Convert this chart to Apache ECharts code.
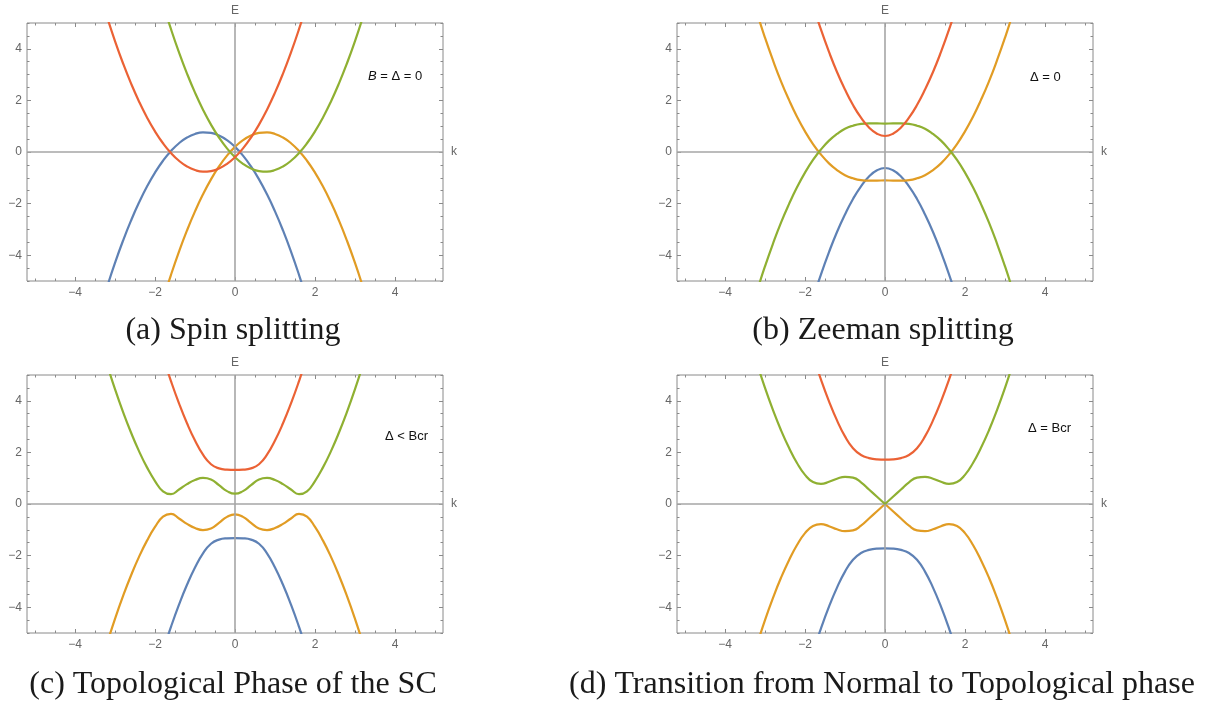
<!DOCTYPE html>
<html>
<head>
<meta charset="utf-8">
<script src="https://cdn.jsdelivr.net/npm/echarts@6/dist/echarts.min.js"></script>
<style>
  html, body { margin: 0; padding: 0; background: #fff; }
  #chart { width: 1212px; height: 704px; }
</style>
</head>
<body>
<div id="chart"></div>
<script>
// Momentum grid shared by every band
const kValues = [-3.4, -3.2, -3.0, -2.8, -2.6, -2.4, -2.2, -2.0, -1.8, -1.6, -1.4, -1.2, -1.0, -0.8, -0.6, -0.4, -0.2, 0,
                 0.2, 0.4, 0.6, 0.8, 1.0, 1.2, 1.4, 1.6, 1.8, 2.0, 2.2, 2.4, 2.6, 2.8, 3.0, 3.2, 3.4];

// (a) spin splitting, B = Δ = 0
const spinBlue   = [-6.26, -5.24, -4.30, -3.44, -2.66, -1.96, -1.34, -0.80, -0.34, 0.04, 0.34, 0.56, 0.70, 0.76, 0.74, 0.64, 0.46, 0.20,
                    -0.14, -0.56, -1.06, -1.64, -2.30, -3.04, -3.86, -4.76, -5.74, -6.80, null, null, null, null, null, null, null];
const spinOrange = [null, null, null, null, null, null, null, -6.80, -5.74, -4.76, -3.86, -3.04, -2.30, -1.64, -1.06, -0.56, -0.14, 0.20,
                    0.46, 0.64, 0.74, 0.76, 0.70, 0.56, 0.34, 0.04, -0.34, -0.80, -1.34, -1.96, -2.66, -3.44, -4.30, -5.24, -6.26];
const spinGreen  = [null, null, null, null, null, null, null, 6.80, 5.74, 4.76, 3.86, 3.04, 2.30, 1.64, 1.06, 0.56, 0.14, -0.20,
                    -0.46, -0.64, -0.74, -0.76, -0.70, -0.56, -0.34, -0.04, 0.34, 0.80, 1.34, 1.96, 2.66, 3.44, 4.30, 5.24, 6.26];
const spinRed    = [6.26, 5.24, 4.30, 3.44, 2.66, 1.96, 1.34, 0.80, 0.34, -0.04, -0.34, -0.56, -0.70, -0.76, -0.74, -0.64, -0.46, -0.20,
                    0.14, 0.56, 1.06, 1.64, 2.30, 3.04, 3.86, 4.76, 5.74, 6.80, null, null, null, null, null, null, null];

// (b) Zeeman splitting, Δ = 0
const zeemanBlue   = [null, null, null, null, null, null, null, -6.72, -5.69, -4.74, -3.88, -3.10, -2.42, -1.82, -1.33, -0.95, -0.71, -0.62,
                      -0.71, -0.95, -1.33, -1.82, -2.42, -3.10, -3.88, -4.74, -5.69, -6.72, null, null, null, null, null, null, null];
const zeemanOrange = [6.44, 5.39, 4.43, 3.55, 2.74, 2.02, 1.37, 0.80, 0.31, -0.10, -0.44, -0.70, -0.90, -1.02, -1.09, -1.11, -1.11, -1.10,
                      -1.11, -1.11, -1.09, -1.02, -0.90, -0.70, -0.44, -0.10, 0.31, 0.80, 1.37, 2.02, 2.74, 3.55, 4.43, 5.39, 6.44];
const zeemanGreen  = [-6.44, -5.39, -4.43, -3.55, -2.74, -2.02, -1.37, -0.80, -0.31, 0.10, 0.44, 0.70, 0.90, 1.02, 1.09, 1.11, 1.11, 1.10,
                      1.11, 1.11, 1.09, 1.02, 0.90, 0.70, 0.44, 0.10, -0.31, -0.80, -1.37, -2.02, -2.74, -3.55, -4.43, -5.39, -6.44];
const zeemanRed    = [null, null, null, null, null, null, null, 6.72, 5.69, 4.74, 3.88, 3.10, 2.42, 1.82, 1.33, 0.95, 0.71, 0.62,
                      0.71, 0.95, 1.33, 1.82, 2.42, 3.10, 3.88, 4.74, 5.69, 6.72, null, null, null, null, null, null, null];

// (c) topological superconducting phase, Δ < Bcr
const topoBlue   = [null, null, null, null, null, null, null, -6.73, -5.70, -4.76, -3.90, -3.13, -2.46, -1.91, -1.54, -1.38, -1.33, -1.32,
                    -1.33, -1.38, -1.54, -1.91, -2.46, -3.13, -3.90, -4.76, -5.70, -6.73, null, null, null, null, null, null, null];
const topoOrange = [-6.45, -5.41, -4.45, -3.57, -2.77, -2.05, -1.42, -0.89, -0.49, -0.38, -0.56, -0.77, -0.93, -1.01, -0.95, -0.73, -0.50, -0.40,
                    -0.50, -0.73, -0.95, -1.01, -0.93, -0.77, -0.56, -0.38, -0.49, -0.89, -1.42, -2.05, -2.77, -3.57, -4.45, -5.41, -6.45];
const topoGreen  = [6.45, 5.41, 4.45, 3.57, 2.77, 2.05, 1.42, 0.89, 0.49, 0.38, 0.56, 0.77, 0.93, 1.01, 0.95, 0.73, 0.50, 0.40,
                    0.50, 0.73, 0.95, 1.01, 0.93, 0.77, 0.56, 0.38, 0.49, 0.89, 1.42, 2.05, 2.77, 3.57, 4.45, 5.41, 6.45];
const topoRed    = [null, null, null, null, null, null, null, 6.73, 5.70, 4.76, 3.90, 3.13, 2.46, 1.91, 1.54, 1.38, 1.33, 1.32,
                    1.33, 1.38, 1.54, 1.91, 2.46, 3.13, 3.90, 4.76, 5.70, 6.73, null, null, null, null, null, null, null];

// (d) gap closing at the transition, Δ = Bcr
const critBlue   = [null, null, null, null, null, null, null, -6.77, -5.75, -4.82, -3.98, -3.24, -2.62, -2.16, -1.90, -1.78, -1.73, -1.72,
                    -1.73, -1.78, -1.90, -2.16, -2.62, -3.24, -3.98, -4.82, -5.75, -6.77, null, null, null, null, null, null, null];
const critOrange = [-6.49, -5.45, -4.50, -3.64, -2.86, -2.18, -1.59, -1.13, -0.85, -0.78, -0.86, -0.98, -1.05, -1.02, -0.84, -0.56, -0.28, 0.00,
                    -0.28, -0.56, -0.84, -1.02, -1.05, -0.98, -0.86, -0.78, -0.85, -1.13, -1.59, -2.18, -2.86, -3.64, -4.50, -5.45, -6.49];
const critGreen  = [6.49, 5.45, 4.50, 3.64, 2.86, 2.18, 1.59, 1.13, 0.85, 0.78, 0.86, 0.98, 1.05, 1.02, 0.84, 0.56, 0.28, 0.00,
                    0.28, 0.56, 0.84, 1.02, 1.05, 0.98, 0.86, 0.78, 0.85, 1.13, 1.59, 2.18, 2.86, 3.64, 4.50, 5.45, 6.49];
const critRed    = [null, null, null, null, null, null, null, 6.77, 5.75, 4.82, 3.98, 3.24, 2.62, 2.16, 1.90, 1.78, 1.73, 1.72,
                    1.73, 1.78, 1.90, 2.16, 2.62, 3.24, 3.98, 4.82, 5.75, 6.77, null, null, null, null, null, null, null];

// Tick positions and labels
const kMajorTicks = [-4, -2, 0, 2, 4];
const kMinorTicks = [-5, -4.5, -4, -3.5, -3, -2.5, -2, -1.5, -1, -0.5, 0, 0.5, 1, 1.5, 2, 2.5, 3, 3.5, 4, 4.5, 5];
const eMajorTicks = [-4, -2, 0, 2, 4];
const eMinorTicks = [-5, -4.5, -4, -3.5, -3, -2.5, -2, -1.5, -1, -0.5, 0, 0.5, 1, 1.5, 2, 2.5, 3, 3.5, 4, 4.5, 5];

const captions = ['(a) Spin splitting', '(b) Zeeman splitting', '(c) Topological Phase of the SC', '(d) Transition from Normal to Topological phase'];
const notes = ['{it|B} = Δ = 0', 'Δ = 0', 'Δ < Bcr', 'Δ = Bcr'];

const bandColors = ['#5E81B5', '#E19C24', '#8FB032', '#EB6235'];

const panels = [
  { rect: { left: 27, top: 23, width: 416, height: 258 }, bands: [spinBlue, spinOrange, spinGreen, spinRed], cusp: [],
    captionPos: [233, 314], notePos: [368, 69] },
  { rect: { left: 677, top: 23, width: 416, height: 258 }, bands: [zeemanBlue, zeemanOrange, zeemanGreen, zeemanRed], cusp: [],
    captionPos: [883, 314], notePos: [1030, 70] },
  { rect: { left: 27, top: 375, width: 416, height: 258 }, bands: [topoBlue, topoOrange, topoGreen, topoRed], cusp: [],
    captionPos: [233, 668], notePos: [385, 429] },
  { rect: { left: 677, top: 375, width: 416, height: 258 }, bands: [critBlue, critOrange, critGreen, critRed], cusp: [1, 2],
    captionPos: [882, 668], notePos: [1028, 421] }
];

const frameColor = '#8a8a8a';
const labelColor = '#666';
const minusFmt = v => (v < 0 ? '\u2212' + Math.abs(v) : String(v));

const grids = [], xAxes = [], yAxes = [], series = [], titles = [];

function xAxisDef(gi, position, ticks, len, labels) {
  return {
    type: 'value', gridIndex: gi, position, min: -5.2, max: 5.2,
    axisLine: { show: false, onZero: false }, splitLine: { show: false },
    axisTick: { show: true, inside: true, length: len, customValues: ticks, lineStyle: { color: frameColor, width: 1 } },
    axisLabel: labels
      ? { show: true, customValues: kMajorTicks, formatter: minusFmt, color: labelColor, fontSize: 12, margin: 6, fontFamily: 'Liberation Sans' }
      : { show: false }
  };
}
function yAxisDef(gi, position, ticks, len, labels) {
  return {
    type: 'value', gridIndex: gi, position, min: -5, max: 5,
    axisLine: { show: false, onZero: false }, splitLine: { show: false },
    axisTick: { show: true, inside: true, length: len, customValues: ticks, lineStyle: { color: frameColor, width: 1 } },
    axisLabel: labels
      ? { show: true, customValues: eMajorTicks, formatter: minusFmt, color: labelColor, fontSize: 12, margin: 5, fontFamily: 'Liberation Sans' }
      : { show: false }
  };
}

panels.forEach((p, i) => {
  grids.push(Object.assign({ show: true, borderColor: frameColor, borderWidth: 1, backgroundColor: 'transparent' }, p.rect));
  xAxes.push(xAxisDef(i, 'bottom', kMajorTicks, 4, true));
  xAxes.push(xAxisDef(i, 'bottom', kMinorTicks, 2.5, false));
  xAxes.push(xAxisDef(i, 'top', kMajorTicks, 4, false));
  xAxes.push(xAxisDef(i, 'top', kMinorTicks, 2.5, false));
  yAxes.push(yAxisDef(i, 'left', eMajorTicks, 4, true));
  yAxes.push(yAxisDef(i, 'left', eMinorTicks, 2.5, false));
  yAxes.push(yAxisDef(i, 'right', eMajorTicks, 4, false));
  yAxes.push(yAxisDef(i, 'right', eMinorTicks, 2.5, false));

  const xi = 4 * i, yi = 4 * i;

  // Coordinate axes through the origin, with E and k names
  series.push({
    type: 'line', xAxisIndex: xi, yAxisIndex: yi, data: [], z: 1, silent: true, animation: false,
    markLine: {
      silent: true, symbol: 'none', animation: false,
      lineStyle: { color: '#a6a6a6', width: 1.6, type: 'solid' },
      label: { show: true, position: 'end', color: labelColor, fontSize: 12, fontFamily: 'Liberation Sans', distance: 6 },
      data: [
        { xAxis: 0, label: { formatter: 'E' } },
        { yAxis: 0, label: { formatter: 'k', distance: 8 } }
      ]
    }
  });

  // Energy bands
  p.bands.forEach((vals, b) => {
    const pts = kValues.map((k, j) => [k, vals[j]]);
    const pieces = p.cusp.includes(b) ? [pts.filter(q => q[0] <= 0), pts.filter(q => q[0] >= 0)] : [pts];
    pieces.forEach(d => {
      series.push({
        type: 'line', xAxisIndex: xi, yAxisIndex: yi, data: d, smooth: 0.5,
        showSymbol: false, symbol: 'none', silent: true, animation: false, clip: true,
        lineStyle: { color: bandColors[b], width: 2.2 }, itemStyle: { color: bandColors[b] }, z: 3 + b
      });
    });
  });

  titles.push({
    text: captions[i], left: p.captionPos[0], top: p.captionPos[1], textAlign: 'center', padding: 0,
    textStyle: { fontFamily: 'Liberation Serif', fontSize: 32, fontWeight: 'normal', color: '#1a1a1a', lineHeight: 34 }
  });
  titles.push({
    text: notes[i], left: p.notePos[0], top: p.notePos[1], padding: 0,
    textStyle: {
      fontFamily: 'Liberation Sans', fontSize: 13, fontWeight: 'normal', color: '#111', lineHeight: 15,
      rich: { it: { fontFamily: 'Liberation Sans', fontSize: 13, fontStyle: 'italic', color: '#111' } }
    }
  });
});

const chart = echarts.init(document.getElementById('chart'), null, { renderer: 'canvas' });
chart.setOption({
  backgroundColor: '#ffffff',
  animation: false,
  title: titles,
  grid: grids,
  xAxis: xAxes,
  yAxis: yAxes,
  series: series
});
</script>
</body>
</html>
